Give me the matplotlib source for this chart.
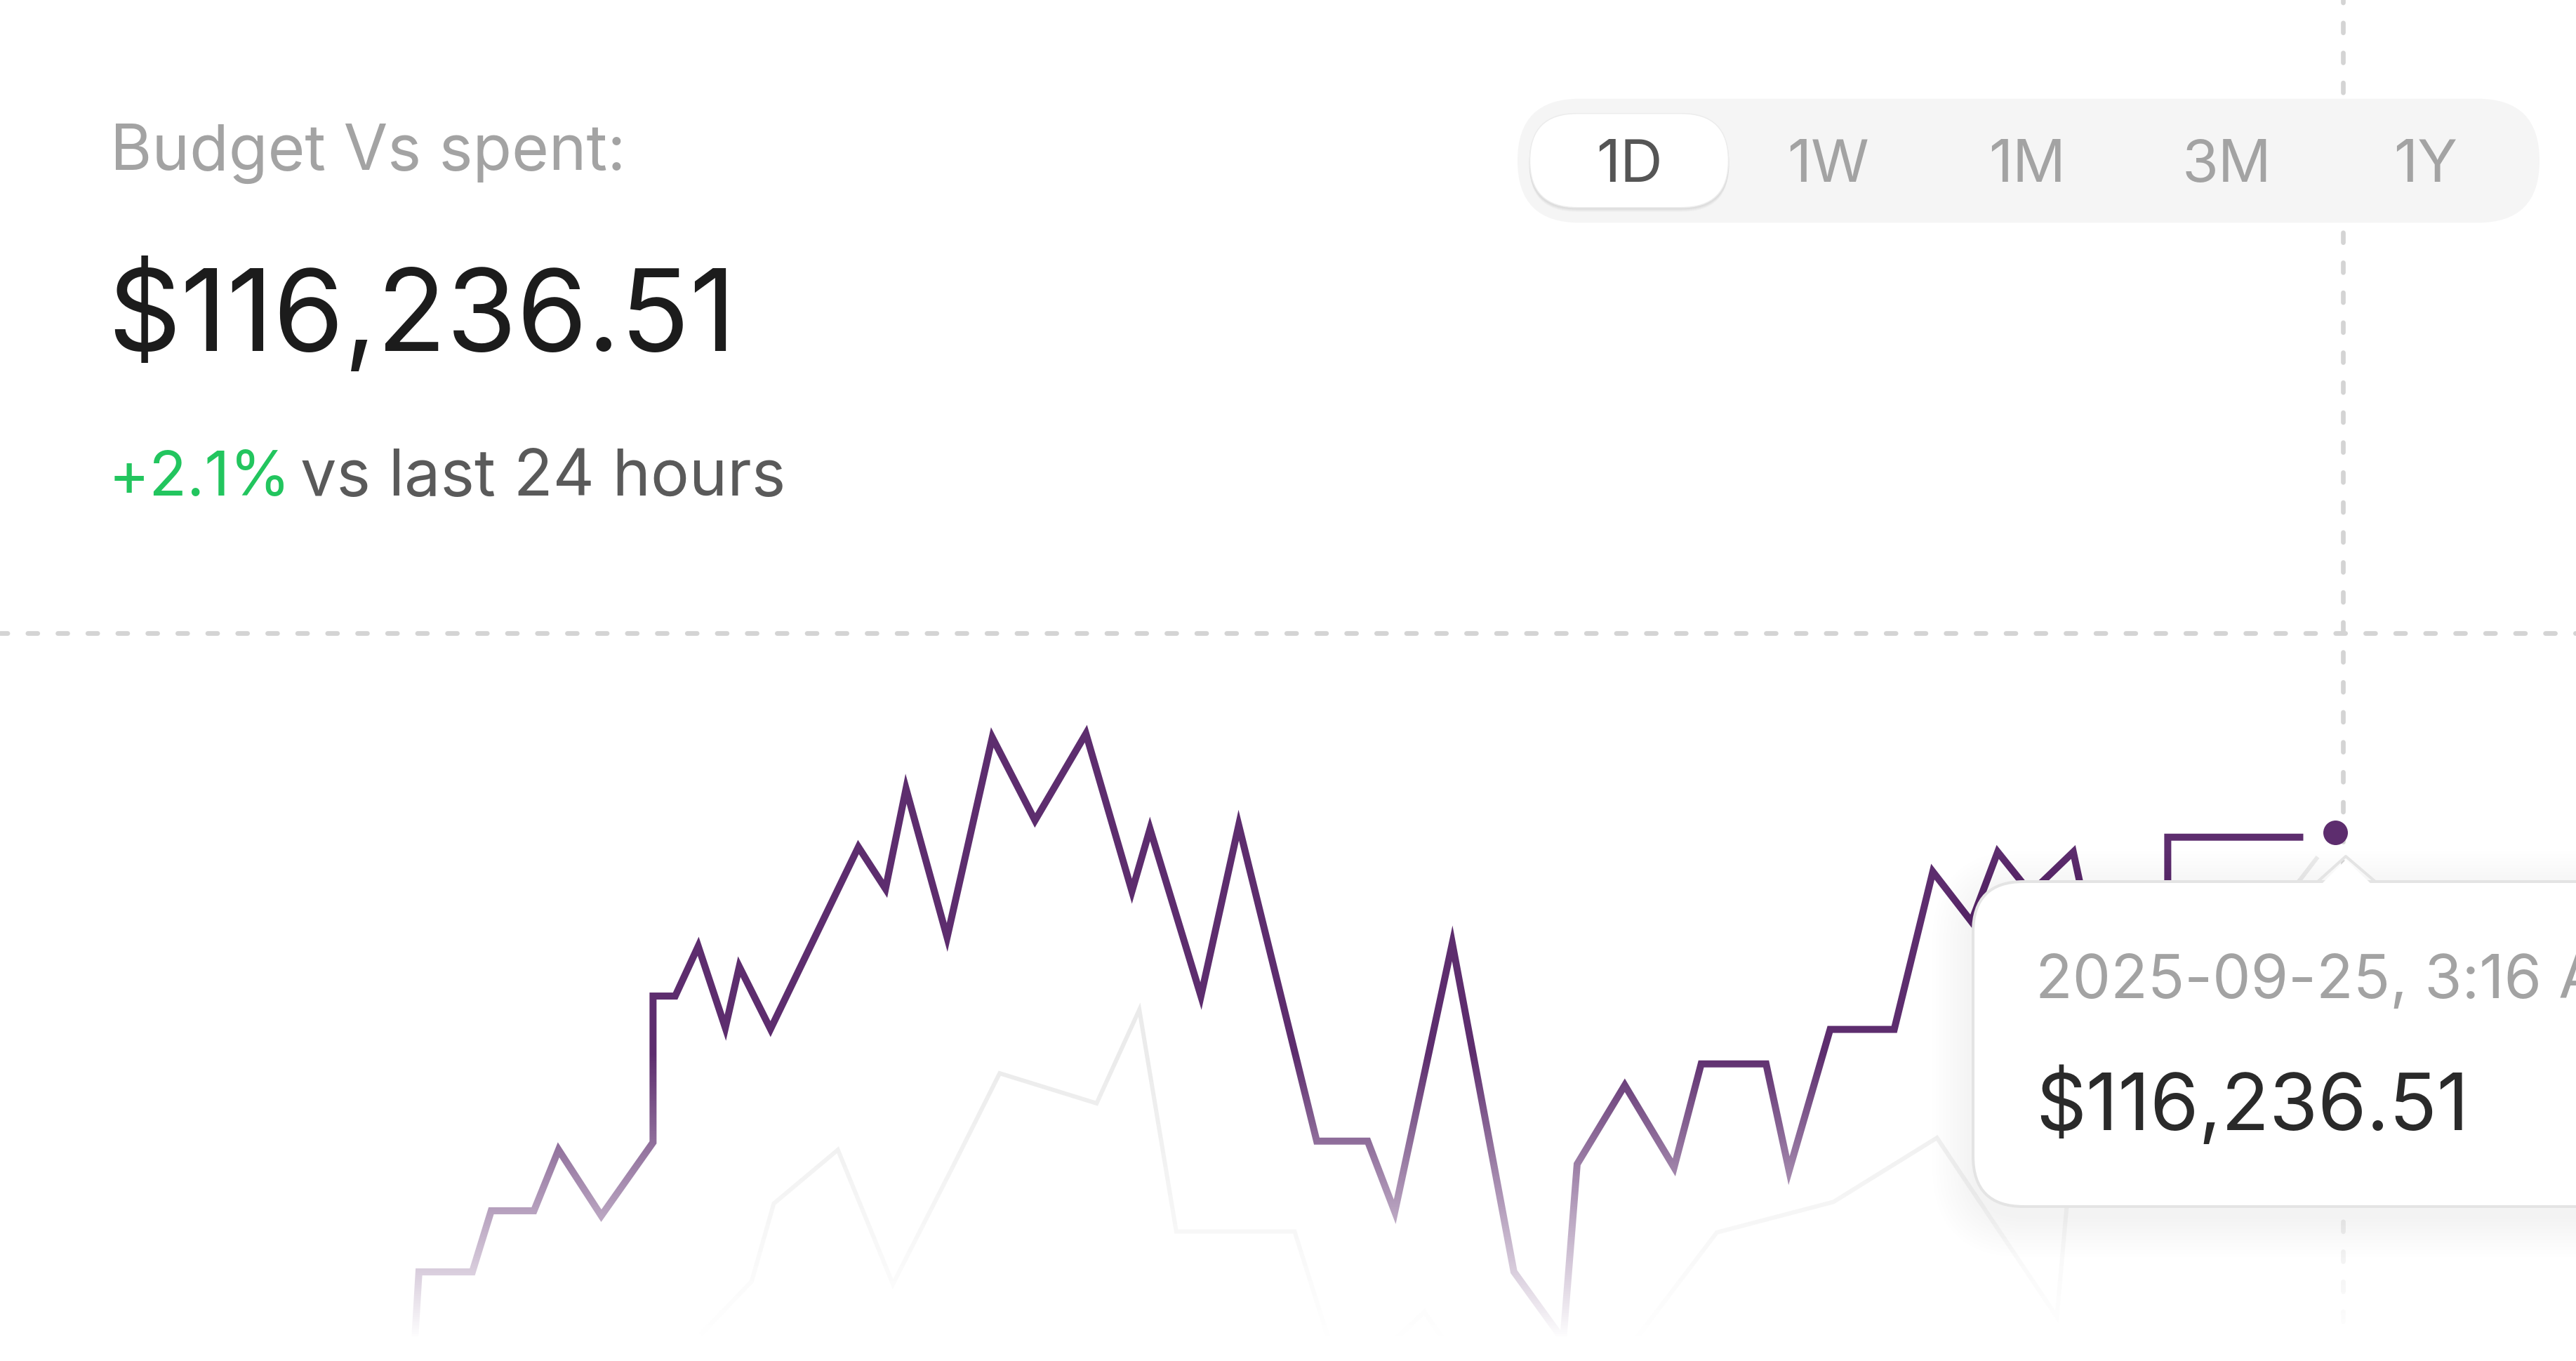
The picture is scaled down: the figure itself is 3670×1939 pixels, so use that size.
import numpy as np
import matplotlib
matplotlib.use("Agg")
import matplotlib.pyplot as plt
from matplotlib.patches import FancyBboxPatch, Polygon
from matplotlib.transforms import Affine2D

# ---------------- data ----------------
spent_t = [252.5, 255, 287.5, 299, 325, 340, 366, 397.5, 397.5, 411, 425, 441.5, 450, 469,
           522.5, 539, 551.5, 576.5, 604, 630, 661, 689, 700, 731, 754, 801.5, 832.5, 849,
           884, 921.5, 951.5, 960, 989, 1019, 1035.5, 1075, 1089, 1114, 1153, 1176.5, 1200,
           1216, 1236, 1262, 1288, 1319.5, 1319.5, 1402]
spent_v = [106970, 108212, 108212, 109328, 109328, 110441, 109238, 110576, 113249, 113249,
           114158, 112670, 113786, 112646, 115970, 115208, 117035, 114320, 117971, 116456,
           118040, 115163, 116300, 113249, 116369, 110600, 110600, 109310, 114212, 108215,
           106970, 110180, 111620, 110120, 112010, 112010, 110060, 112640, 112640, 115520,
           114608, 115880, 115130, 115880, 112250, 112250, 116150, 116150]

budget_t = [427.5, 457.5, 471, 510, 543.5, 580, 608.5, 667.5, 693.5, 716, 788, 818, 867, 897,
            968, 1045, 1116, 1179, 1252, 1262, 1330, 1400, 1410]
budget_v = [107102, 108038, 109460, 110441, 107990, 110135, 111839, 111290, 113000, 108950,
            108950, 106100, 107480, 106190, 105890, 108932, 109490, 110660, 107390, 110750,
            112850, 115370, 115760]

hover_t = 1421.3
hover_v = 116236.51
hover_label = "2025-09-25, 3:16 AM"
reference_level = 119870

title = "Budget Vs spent:"
change = "+2.1%"
change_label = "vs last 24 hours"
ranges = ["1D", "1W", "1M", "3M", "1Y"]
selected_range = "1D"

t_range = (0, 1568)
v_range = (106585, 131450)

# ---------------- style ----------------
W, H = 3670, 1940
DPI = 100
PT = 72.0 / DPI  # points per pixel

MAIN = "#5d2d6e"
GREY_LINE = "#ebebeb"
DASH = "#d4d4d4"

plt.rcParams["font.family"] = ["Inter", "DejaVu Sans"]
plt.rcParams["lines.scale_dashes"] = False

fig = plt.figure(figsize=(W / DPI, H / DPI), dpi=DPI)
fig.patch.set_facecolor("white")
ax = fig.add_axes([0, 0, 1, 1])
ax.axis("off")
ax.set_autoscale_on(False)
ax.set_xlim(*t_range)
ax.set_ylim(*v_range)

# pixel transform (origin top-left)
PX = Affine2D().scale(1, -1).translate(0, H)

# ---------------- dashed guides ----------------
dash_lw = 6.7 * PT
dash_pat = (14 * PT, 28.7 * PT)
ax.plot(list(t_range), [reference_level, reference_level], color=DASH, lw=dash_lw,
        linestyle=(3.4 * PT, dash_pat), dash_capstyle="round", zorder=1)
ax.plot([hover_t + 5, hover_t + 5], [v_range[1], v_range[0]], color=DASH, lw=dash_lw,
        linestyle=(9.4 * PT, dash_pat), dash_capstyle="round", zorder=1)

# ---------------- series ----------------
ax.plot(budget_t, budget_v, color=GREY_LINE, lw=6 * PT, solid_joinstyle="miter", zorder=2)
ax.plot(spent_t, spent_v, color=MAIN, lw=10 * PT, solid_joinstyle="miter",
        solid_capstyle="butt", zorder=3)

# bottom fade
frac = 440 / H
rows = 440
alpha = np.clip(np.arange(rows) / 405.0, 0, 1)
grad = np.ones((rows, 2, 4))
grad[:, :, 3] = alpha[:, None]
ax.imshow(grad, extent=(0, 1, 0, frac), transform=ax.transAxes, aspect="auto",
          origin="upper", interpolation="bilinear", zorder=5)
ax.set_xlim(*t_range)
ax.set_ylim(*v_range)

# hover dot
ax.plot([hover_t], [hover_v], "o", ms=35 * PT, color=MAIN, mec="none", zorder=6)

# ---------------- header text ----------------
ax.text(157, 241.8, title, transform=PX, fontsize=65.4, color="#a3a3a3",
        ha="left", va="baseline")
ax.text(153, 499.6, f"${hover_v:,.2f}", transform=PX, fontsize=117, color="#1c1c1c",
        ha="left", va="baseline")
ax.text(155, 706, change, transform=PX, fontsize=63.5, color="#22c55e",
        ha="left", va="baseline")
ax.text(428, 706, change_label, transform=PX, fontsize=66, color="#5a5a5a",
        ha="left", va="baseline")

# ---------------- range selector ----------------
bg = FancyBboxPatch((2162, 141.7), 1456, 176.6, boxstyle="round,pad=0,rounding_size=88",
                    fc="#f5f5f5", ec="none", transform=PX, zorder=8)
ax.add_patch(bg)
step = 283.7
c0 = 2321
sel = ranges.index(selected_range)
cx = c0 + step * sel
for i in range(5):
    s = FancyBboxPatch((cx - 141.5 - 1, 162.7 + 2 + i), 285, 134,
                       boxstyle="round,pad=0,rounding_size=67",
                       fc="black", ec="none", alpha=0.018, transform=PX, zorder=8.5)
    ax.add_patch(s)
pill = FancyBboxPatch((cx - 141.5, 162.7), 283, 134, boxstyle="round,pad=0,rounding_size=67",
                      fc="white", ec="#ececec", lw=1.5 * PT, transform=PX, zorder=9)
ax.add_patch(pill)
for i, r in enumerate(ranges):
    ax.text(c0 + step * i, 259.3, r, transform=PX, fontsize=60.4,
            color="#555555" if r == selected_range else "#a3a3a3",
            ha="center", va="baseline", zorder=10)

# ---------------- tooltip ----------------
tx, ty, th = 2811, 1257, 463
tw = 1100
for i in range(12):
    s = 3 + 5 * i
    sh = FancyBboxPatch((tx - s, ty - s + 14), tw + 2 * s, th + 2 * s,
                        boxstyle=f"round,pad=0,rounding_size={72 + s}",
                        fc="black", ec="none", alpha=0.0055, transform=PX, zorder=19)
    ax.add_patch(sh)
box = FancyBboxPatch((tx, ty), tw, th, boxstyle="round,pad=0,rounding_size=72",
                     fc="white", ec="#e4e4e4", lw=4 * PT, transform=PX, zorder=20)
ax.add_patch(box)
cover = Polygon([(3306, 1262), (3342, 1226), (3380, 1262)], closed=True, fc="white",
                ec="none", transform=PX, zorder=21)
ax.add_patch(cover)
edge = Polygon([(3302, 1257), (3342, 1221), (3384, 1257)], closed=False, fill=False,
               ec="#e4e4e4", lw=4 * PT, joinstyle="round", transform=PX, zorder=21)
ax.add_patch(edge)

ax.text(2900, 1422.5, hover_label, transform=PX, fontsize=62.2, color="#a3a3a3",
        ha="left", va="baseline", zorder=22)
ax.text(2900, 1610.4, f"${hover_v:,.2f}", transform=PX, fontsize=80.7, color="#2a2a2a",
        ha="left", va="baseline", zorder=22)

fig.savefig("out.png", dpi=DPI, facecolor="white")
